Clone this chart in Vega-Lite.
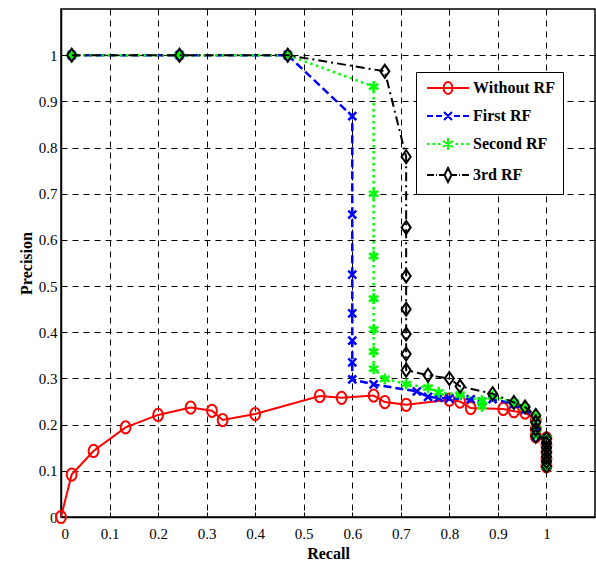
{
  "$schema": "https://vega.github.io/schema/vega-lite/v6.json",
  "width": 534,
  "height": 508,
  "background": "white",
  "padding": {"left": 18, "top": 8, "right": 0, "bottom": 0},
  "config": {
    "view": {"stroke": "black", "strokeWidth": 1.5},
    "axis": {
      "domainColor": "black", "domainWidth": 1.5,
      "tickColor": "black", "tickWidth": 1,
      "gridColor": "black", "gridDash": [6, 5], "gridOpacity": 1, "gridWidth": 1,
      "labelFont": "Liberation Serif", "labelFontSize": 15, "labelColor": "black",
      "titleFont": "Liberation Serif", "titleFontSize": 16, "titleFontWeight": "bold", "titleColor": "black"
    }
  },
  "data": {
    "values": [
      {"series": "Without RF", "order": 0, "recall": 0, "precision": 0},
      {"series": "Without RF", "order": 1, "recall": 0.022, "precision": 0.092},
      {"series": "Without RF", "order": 2, "recall": 0.067, "precision": 0.143},
      {"series": "Without RF", "order": 3, "recall": 0.133, "precision": 0.194},
      {"series": "Without RF", "order": 4, "recall": 0.2, "precision": 0.221},
      {"series": "Without RF", "order": 5, "recall": 0.267, "precision": 0.237},
      {"series": "Without RF", "order": 6, "recall": 0.311, "precision": 0.23},
      {"series": "Without RF", "order": 7, "recall": 0.333, "precision": 0.21},
      {"series": "Without RF", "order": 8, "recall": 0.4, "precision": 0.223},
      {"series": "Without RF", "order": 9, "recall": 0.533, "precision": 0.262},
      {"series": "Without RF", "order": 10, "recall": 0.578, "precision": 0.258},
      {"series": "Without RF", "order": 11, "recall": 0.644, "precision": 0.263},
      {"series": "Without RF", "order": 12, "recall": 0.667, "precision": 0.249},
      {"series": "Without RF", "order": 13, "recall": 0.711, "precision": 0.243},
      {"series": "Without RF", "order": 14, "recall": 0.8, "precision": 0.254},
      {"series": "Without RF", "order": 15, "recall": 0.822, "precision": 0.25},
      {"series": "Without RF", "order": 16, "recall": 0.844, "precision": 0.236},
      {"series": "Without RF", "order": 17, "recall": 0.911, "precision": 0.234},
      {"series": "Without RF", "order": 18, "recall": 0.933, "precision": 0.229},
      {"series": "Without RF", "order": 19, "recall": 0.956, "precision": 0.226},
      {"series": "Without RF", "order": 20, "recall": 0.978, "precision": 0.21},
      {"series": "Without RF", "order": 21, "recall": 0.978, "precision": 0.19},
      {"series": "Without RF", "order": 22, "recall": 0.978, "precision": 0.175},
      {"series": "Without RF", "order": 23, "recall": 1, "precision": 0.17},
      {"series": "Without RF", "order": 24, "recall": 1, "precision": 0.155},
      {"series": "Without RF", "order": 25, "recall": 1, "precision": 0.14},
      {"series": "Without RF", "order": 26, "recall": 1, "precision": 0.125},
      {"series": "Without RF", "order": 27, "recall": 1, "precision": 0.11},

      {"series": "First RF", "order": 0, "recall": 0.022, "precision": 1},
      {"series": "First RF", "order": 1, "recall": 0.244, "precision": 1},
      {"series": "First RF", "order": 2, "recall": 0.467, "precision": 1},
      {"series": "First RF", "order": 3, "recall": 0.6, "precision": 0.868},
      {"series": "First RF", "order": 4, "recall": 0.6, "precision": 0.655},
      {"series": "First RF", "order": 5, "recall": 0.6, "precision": 0.525},
      {"series": "First RF", "order": 6, "recall": 0.6, "precision": 0.441},
      {"series": "First RF", "order": 7, "recall": 0.6, "precision": 0.382},
      {"series": "First RF", "order": 8, "recall": 0.6, "precision": 0.335},
      {"series": "First RF", "order": 9, "recall": 0.6, "precision": 0.298},
      {"series": "First RF", "order": 10, "recall": 0.644, "precision": 0.287},
      {"series": "First RF", "order": 11, "recall": 0.733, "precision": 0.272},
      {"series": "First RF", "order": 12, "recall": 0.756, "precision": 0.26},
      {"series": "First RF", "order": 13, "recall": 0.778, "precision": 0.258},
      {"series": "First RF", "order": 14, "recall": 0.8, "precision": 0.257},
      {"series": "First RF", "order": 15, "recall": 0.844, "precision": 0.255},
      {"series": "First RF", "order": 16, "recall": 0.867, "precision": 0.25},
      {"series": "First RF", "order": 17, "recall": 0.889, "precision": 0.255},
      {"series": "First RF", "order": 18, "recall": 0.933, "precision": 0.245},
      {"series": "First RF", "order": 19, "recall": 0.956, "precision": 0.232},
      {"series": "First RF", "order": 20, "recall": 0.978, "precision": 0.215},
      {"series": "First RF", "order": 21, "recall": 0.978, "precision": 0.195},
      {"series": "First RF", "order": 22, "recall": 0.978, "precision": 0.175},
      {"series": "First RF", "order": 23, "recall": 1, "precision": 0.17},
      {"series": "First RF", "order": 24, "recall": 1, "precision": 0.14},
      {"series": "First RF", "order": 25, "recall": 1, "precision": 0.11},

      {"series": "Second RF", "order": 0, "recall": 0.022, "precision": 1},
      {"series": "Second RF", "order": 1, "recall": 0.244, "precision": 1},
      {"series": "Second RF", "order": 2, "recall": 0.467, "precision": 1},
      {"series": "Second RF", "order": 3, "recall": 0.644, "precision": 0.932},
      {"series": "Second RF", "order": 4, "recall": 0.644, "precision": 0.7},
      {"series": "Second RF", "order": 5, "recall": 0.644, "precision": 0.565},
      {"series": "Second RF", "order": 6, "recall": 0.644, "precision": 0.473},
      {"series": "Second RF", "order": 7, "recall": 0.644, "precision": 0.406},
      {"series": "Second RF", "order": 8, "recall": 0.644, "precision": 0.358},
      {"series": "Second RF", "order": 9, "recall": 0.644, "precision": 0.321},
      {"series": "Second RF", "order": 10, "recall": 0.667, "precision": 0.299},
      {"series": "Second RF", "order": 11, "recall": 0.711, "precision": 0.288},
      {"series": "Second RF", "order": 12, "recall": 0.756, "precision": 0.28},
      {"series": "Second RF", "order": 13, "recall": 0.778, "precision": 0.27},
      {"series": "Second RF", "order": 14, "recall": 0.822, "precision": 0.265},
      {"series": "Second RF", "order": 15, "recall": 0.867, "precision": 0.252},
      {"series": "Second RF", "order": 16, "recall": 0.867, "precision": 0.24},
      {"series": "Second RF", "order": 17, "recall": 0.889, "precision": 0.262},
      {"series": "Second RF", "order": 18, "recall": 0.933, "precision": 0.248},
      {"series": "Second RF", "order": 19, "recall": 0.956, "precision": 0.237},
      {"series": "Second RF", "order": 20, "recall": 0.978, "precision": 0.218},
      {"series": "Second RF", "order": 21, "recall": 0.978, "precision": 0.2},
      {"series": "Second RF", "order": 22, "recall": 0.978, "precision": 0.18},
      {"series": "Second RF", "order": 23, "recall": 1, "precision": 0.17},
      {"series": "Second RF", "order": 24, "recall": 1, "precision": 0.15},
      {"series": "Second RF", "order": 25, "recall": 1, "precision": 0.13},
      {"series": "Second RF", "order": 26, "recall": 1, "precision": 0.11},

      {"series": "3rd RF", "order": 0, "recall": 0.022, "precision": 1},
      {"series": "3rd RF", "order": 1, "recall": 0.244, "precision": 1},
      {"series": "3rd RF", "order": 2, "recall": 0.467, "precision": 1},
      {"series": "3rd RF", "order": 3, "recall": 0.667, "precision": 0.965},
      {"series": "3rd RF", "order": 4, "recall": 0.711, "precision": 0.78},
      {"series": "3rd RF", "order": 5, "recall": 0.711, "precision": 0.627},
      {"series": "3rd RF", "order": 6, "recall": 0.711, "precision": 0.522},
      {"series": "3rd RF", "order": 7, "recall": 0.711, "precision": 0.45},
      {"series": "3rd RF", "order": 8, "recall": 0.711, "precision": 0.396},
      {"series": "3rd RF", "order": 9, "recall": 0.711, "precision": 0.353},
      {"series": "3rd RF", "order": 10, "recall": 0.711, "precision": 0.318},
      {"series": "3rd RF", "order": 11, "recall": 0.756, "precision": 0.307},
      {"series": "3rd RF", "order": 12, "recall": 0.8, "precision": 0.3},
      {"series": "3rd RF", "order": 13, "recall": 0.822, "precision": 0.283},
      {"series": "3rd RF", "order": 14, "recall": 0.889, "precision": 0.267},
      {"series": "3rd RF", "order": 15, "recall": 0.933, "precision": 0.248},
      {"series": "3rd RF", "order": 16, "recall": 0.956, "precision": 0.238},
      {"series": "3rd RF", "order": 17, "recall": 0.978, "precision": 0.22},
      {"series": "3rd RF", "order": 18, "recall": 0.978, "precision": 0.205},
      {"series": "3rd RF", "order": 19, "recall": 0.978, "precision": 0.19},
      {"series": "3rd RF", "order": 20, "recall": 0.978, "precision": 0.175},
      {"series": "3rd RF", "order": 21, "recall": 1, "precision": 0.17},
      {"series": "3rd RF", "order": 22, "recall": 1, "precision": 0.16},
      {"series": "3rd RF", "order": 23, "recall": 1, "precision": 0.15},
      {"series": "3rd RF", "order": 24, "recall": 1, "precision": 0.14},
      {"series": "3rd RF", "order": 25, "recall": 1, "precision": 0.13},
      {"series": "3rd RF", "order": 26, "recall": 1, "precision": 0.12},
      {"series": "3rd RF", "order": 27, "recall": 1, "precision": 0.11}
    ]
  },
  "layer": [
    {
      "encoding": {
        "x": {"field": "recall", "type": "quantitative",
          "scale": {"domain": [0, 1.1], "nice": false, "zero": false},
          "axis": {"orient": "bottom", "values": [0, 0.1, 0.2, 0.3, 0.4, 0.5, 0.6, 0.7, 0.8, 0.9, 1], "format": "~g", "grid": true, "tickSize": -5, "labelPadding": 14, "title": "Recall", "titlePadding": 4}},
        "y": {"field": "precision", "type": "quantitative",
          "scale": {"domain": [0, 1.1], "nice": false, "zero": false},
          "axis": {"orient": "left", "values": [0, 0.1, 0.2, 0.3, 0.4, 0.5, 0.6, 0.7, 0.8, 0.9, 1], "format": "~g", "grid": true, "tickSize": -5, "labelPadding": 9, "title": "Precision", "titlePadding": 4}}
      },
      "layer": [
        {"transform": [{"filter": "datum.series === 'Without RF'"}],
         "mark": {"type": "line", "color": "#ff0000", "strokeWidth": 2},
         "encoding": {"order": {"field": "order", "type": "quantitative"}}},
        {"transform": [{"filter": "datum.series === 'Without RF'"}],
         "mark": {"type": "point", "shape": "M0,-1A0.8,1 0 1,1 0,1A0.8,1 0 1,1 0,-1Z", "size": 150, "filled": false, "stroke": "#ff0000", "strokeWidth": 2, "opacity": 1}},
        {"transform": [{"filter": "datum.series === 'First RF'"}],
         "mark": {"type": "line", "color": "#0000ff", "strokeWidth": 2.5, "strokeDash": [8, 4]},
         "encoding": {"order": {"field": "order", "type": "quantitative"}}},
        {"transform": [{"filter": "datum.series === 'First RF'"}],
         "mark": {"type": "point", "shape": "M-0.7,-0.7L0.7,0.7M0.7,-0.7L-0.7,0.7", "size": 130, "filled": false, "stroke": "#0000ff", "strokeWidth": 2.5, "opacity": 1}},
        {"transform": [{"filter": "datum.series === 'Second RF'"}],
         "mark": {"type": "line", "color": "#00ff00", "strokeWidth": 2.5, "strokeDash": [2.5, 3.5]},
         "encoding": {"order": {"field": "order", "type": "quantitative"}}},
        {"transform": [{"filter": "datum.series === 'Second RF'"}],
         "mark": {"type": "point", "shape": "M0,-1V1M-0.87,-0.5L0.87,0.5M-0.87,0.5L0.87,-0.5", "size": 120, "filled": false, "stroke": "#00ff00", "strokeWidth": 2.5, "opacity": 1}},
        {"transform": [{"filter": "datum.series === '3rd RF'"}],
         "mark": {"type": "line", "color": "#000000", "strokeWidth": 2, "strokeDash": [9, 4, 2, 4]},
         "encoding": {"order": {"field": "order", "type": "quantitative"}}},
        {"transform": [{"filter": "datum.series === '3rd RF'"}],
         "mark": {"type": "point", "shape": "M0,-1L0.7,0L0,1L-0.7,0Z", "size": 169, "filled": false, "stroke": "#000000", "strokeWidth": 2, "opacity": 1}},
        {"transform": [{"filter": "false"}],
         "mark": {"type": "point", "filled": false, "strokeWidth": 2, "opacity": 1},
         "encoding": {
           "color": {"field": "series", "type": "nominal",
             "scale": {"domain": ["Without RF", "First RF", "Second RF", "3rd RF"], "range": ["#ff0000", "#0000ff", "#00ff00", "#000000"]},
             "legend": {"title": null, "orient": "none", "legendX": 355, "legendY": 63, "strokeColor": "black", "fillColor": "white", "padding": 8, "symbolSize": 100, "symbolStrokeWidth": 2, "symbolFillColor": "transparent", "labelOffset": 33, "labelFont": "Liberation Serif", "labelFontSize": 16, "labelFontWeight": "bold", "labelColor": "black", "rowPadding": 10}},
           "shape": {"field": "series", "type": "nominal",
             "scale": {"domain": ["Without RF", "First RF", "Second RF", "3rd RF"],
               "range": [
                 "M-1,0H7.4M3.2,-1.2A0.9,1.2 0 1,1 3.2,1.2A0.9,1.2 0 1,1 3.2,-1.2Z",
                 "M-1,0H0.2M0.8,0H2M2.4,-0.8L4,0.8M4,-0.8L2.4,0.8M4.4,0H5.6M6.2,0H7.4",
                 "M-1,0H-0.5M0.1,0H0.6M1.2,0H1.7M3.2,-1.2V1.2M2.16,-0.6L4.24,0.6M2.16,0.6L4.24,-0.6M4.7,0H5.2M5.8,0H6.3M6.9,0H7.4",
                 "M-1,0H0.4M0.8,0H1M1.4,0H2.5M3.2,-1.4L3.9,0L3.2,1.4L2.5,0ZM3.9,0H5M5.4,0H5.6M6,0H7.4"
               ]},
             "legend": {"title": null, "orient": "none", "legendX": 355, "legendY": 63, "strokeColor": "black", "fillColor": "white", "padding": 8, "symbolSize": 100, "symbolStrokeWidth": 2, "symbolFillColor": "transparent", "labelOffset": 33, "labelFont": "Liberation Serif", "labelFontSize": 16, "labelFontWeight": "bold", "labelColor": "black", "rowPadding": 10}}
         }}
      ]
    },
    {
      "mark": {"type": "point", "opacity": 0},
      "encoding": {
        "x": {"field": "recall", "type": "quantitative",
          "scale": {"domain": [0, 1.1], "nice": false, "zero": false},
          "axis": {"orient": "top", "values": [0, 0.1, 0.2, 0.3, 0.4, 0.5, 0.6, 0.7, 0.8, 0.9, 1], "labels": false, "domain": false, "grid": false, "tickSize": -5, "title": null}},
        "y": {"field": "precision", "type": "quantitative",
          "scale": {"domain": [0, 1.1], "nice": false, "zero": false},
          "axis": {"orient": "right", "values": [0, 0.1, 0.2, 0.3, 0.4, 0.5, 0.6, 0.7, 0.8, 0.9, 1], "labels": false, "domain": false, "grid": false, "tickSize": -5, "title": null}}
      }
    }
  ],
  "resolve": {"axis": {"x": "independent", "y": "independent"}}
}
